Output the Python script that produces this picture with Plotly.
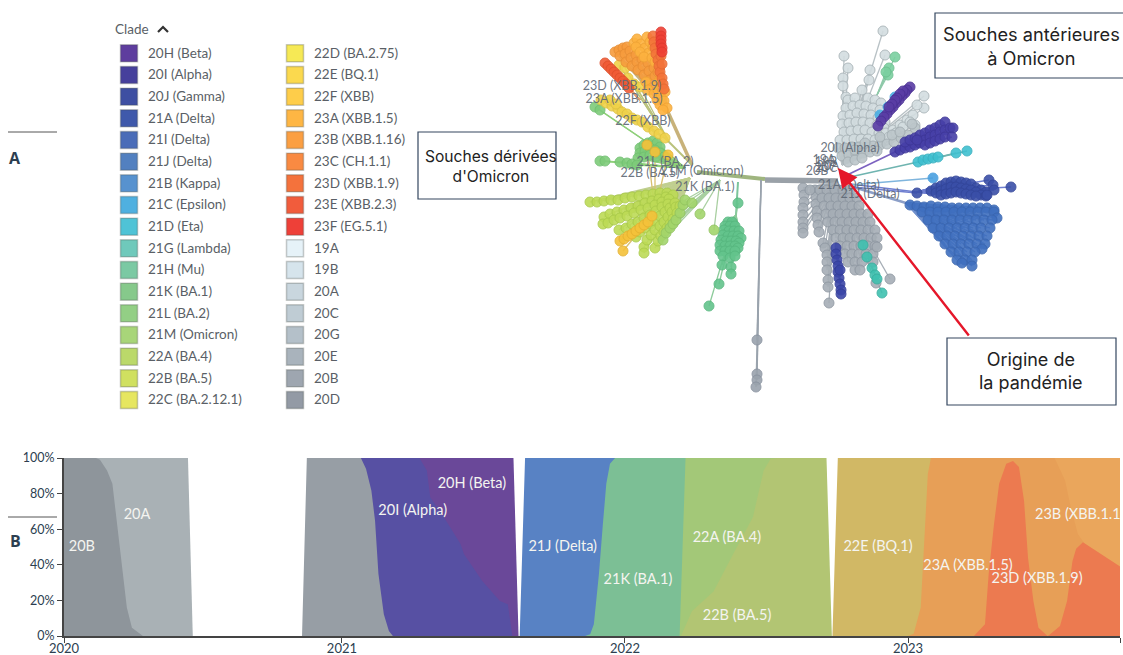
import plotly.graph_objects as go

# ---------- stream chart (B): decimal years / cumulative share ----------
a20A_x = [2020.018, 2020.456, 2020.473, 2020.018]
a20A_y = [100, 100, 0, 0]
a20B_x = [2020.018, 2020.131, 2020.145, 2020.170, 2020.189, 2020.201, 2020.214, 2020.226, 2020.240, 2020.258, 2020.297, 2020.018]
a20B_y = [100, 100, 99, 93, 85.5, 68.6, 51.7, 34.8, 16, 4.7, 0, 0]
a20H_x = [2021.06, 2021.606, 2021.624, 2021.06]
a20H_y = [100, 100, 0, 0]
a20I_x = [2021.06, 2021.274, 2021.300, 2021.312, 2021.368, 2021.419, 2021.431, 2021.495, 2021.558, 2021.586, 2021.602, 2021.06]
a20I_y = [100, 100, 93, 78, 64.8, 51.7, 46, 31, 19.7, 17.9, 0, 0]
a20X_x = [2020.876, 2021.067, 2021.085, 2021.104, 2021.117, 2021.129, 2021.148, 2021.166, 2021.180, 2020.859]
a20X_y = [100, 100, 94, 81.8, 64.8, 34.8, 12.2, 2.8, 0, 0]
a22B_x = [2022.19, 2022.712, 2022.731, 2022.19]
a22B_y = [100, 100, 0, 0]
a22A_x = [2022.19, 2022.54, 2022.515, 2022.490, 2022.452, 2022.389, 2022.313, 2022.237, 2022.198, 2022.19]
a22A_y = [100, 100, 99.6, 93, 66.7, 48, 25, 14, 0, 0]
a21K_x = [2021.85, 2022.214, 2022.193, 2021.85]
a21K_y = [100, 100, 0, 0]
a21J_x = [2021.647, 2021.965, 2021.947, 2021.934, 2021.922, 2021.908, 2021.890, 2021.877, 2021.859, 2021.628]
a21J_y = [100, 100, 96.8, 85.5, 63, 34.8, 6.6, 1, 0, 0]
a23B_x = [2023.0, 2023.749, 2023.749, 2023.0]
a23B_y = [100, 100, 0, 0]
a23A_x = [2023.0, 2023.518, 2023.555, 2023.575, 2023.600, 2023.625, 2023.749, 2023.749, 2023.0]
a23A_y = [100, 100, 87.4, 72.4, 57.3, 51.7, 39, 0, 0]
a23D_x = [2023.233, 2023.272, 2023.285, 2023.304, 2023.322, 2023.347, 2023.371, 2023.392, 2023.410, 2023.424, 2023.443, 2023.461, 2023.493,
          2023.498, 2023.537, 2023.562, 2023.581, 2023.594, 2023.618, 2023.663, 2023.735, 2023.749, 2023.749]
a23D_y = [0, 6.6, 34.8, 63, 85.5, 96.8, 98.3, 95, 76, 44, 19.7, 4.7, 0,
          0.4, 5.6, 19.7, 42, 49, 52.6, 48, 40.4, 39, 0]
a22E_x = [2022.752, 2023.081, 2023.070, 2023.057, 2023.045, 2023.020, 2023.0, 2022.733]
a22E_y = [100, 100, 91, 53.6, 16, 1.3, 0, 0]

areas = [
    (a20A_x, a20A_y, "#a9b1b5"), (a20B_x, a20B_y, "#8e959b"),
    (a20H_x, a20H_y, "#6a4899"), (a20I_x, a20I_y, "#5750a3"), (a20X_x, a20X_y, "#979ea5"),
    (a22B_x, a22B_y, "#b2c573"), (a22A_x, a22A_y, "#a3c878"), (a21K_x, a21K_y, "#7cbf95"), (a21J_x, a21J_y, "#5882c4"),
    (a23B_x, a23B_y, "#eaa65c"), (a23A_x, a23A_y, "#e79f57"), (a23D_x, a23D_y, "#ec7a50"), (a22E_x, a22E_y, "#d1b865"),
]
area_labels = ["20B", "20A", "20I (Alpha)", "20H (Beta)", "21J (Delta)", "21K (BA.1)", "22A (BA.4)", "22B (BA.5)",
               "22E (BQ.1)", "23A (XBB.1.5)", "23D (XBB.1.9)", "23B (XBB.1.1"]
area_label_x = [2020.081, 2020.276, 2021.25, 2021.459, 2021.78, 2022.046, 2022.36, 2022.396, 2022.894, 2023.212, 2023.456, 2023.60]
area_label_y = [50, 68, 70, 85, 50, 31, 55, 11, 50, 39, 32, 68]
year_tick_vals = [2020.018, 2021, 2022, 2023, 2023.749]
year_tick_text = ["2020", "2021", "2022", "2023", ""]
pct_ticks = [0, 20, 40, 60, 80, 100]
pct_text = ["0%", "20%", "40%", "60%", "80%", "100%"]

# ---------- legend (A) ----------
clades_col1 = ["20H (Beta)", "20I (Alpha)", "20J (Gamma)", "21A (Delta)", "21I (Delta)", "21J (Delta)", "21B (Kappa)", "21C (Epsilon)",
               "21D (Eta)", "21G (Lambda)", "21H (Mu)", "21K (BA.1)", "21L (BA.2)", "21M (Omicron)", "22A (BA.4)", "22B (BA.5)", "22C (BA.2.12.1)"]
colors_col1 = ["#5e3d9e", "#46409c", "#3e4fa2", "#3f59ab", "#4a6cb8", "#5280c0", "#5792cf", "#4fb0e0", "#4fc3d6", "#6fc9bb", "#7bc9a3",
               "#86c98b", "#93cf85", "#a8d579", "#bbd96a", "#d0e060", "#e6e660"]
clades_col2 = ["22D (BA.2.75)", "22E (BQ.1)", "22F (XBB)", "23A (XBB.1.5)", "23B (XBB.1.16)", "23C (CH.1.1)", "23D (XBB.1.9)", "23E (XBB.2.3)",
               "23F (EG.5.1)", "19A", "19B", "20A", "20C", "20G", "20E", "20B", "20D"]
colors_col2 = ["#f6e955", "#fbd94e", "#fecd4a", "#feb644", "#fb9f42", "#f98a42", "#f4723c", "#f15c3c", "#ee4038", "#e6f2f8", "#d6e4ec",
               "#c9d6de", "#bfccd4", "#b4c0c9", "#a9b3bc", "#9ea6b0", "#939aa5"]

# ---------- tree (A): tips, (x, y) ----------
gray_up = [(883,31),(844,56),(885,55),(848,68),(870,70),(843,78),(869,80),(843,86),(846,97),(862,90),(924,96),(924,108),(917,105),(915,125),
    (848,100),(855,98),(868,98),(875,100),(881,103),(846,108),(853,106),(860,105),(866,106),(873,108),(880,110),
    (843,116),(850,115),(857,113),(864,114),(871,115),(878,118),(885,122),(842,124),(849,123),(856,122),(863,122),(870,123),(877,125),(884,128),
    (844,132),(851,131),(858,130),(865,130),(872,132),(879,133),(886,133),(893,130),(900,125),(907,120),(913,115),
    (840,140),(847,140),(854,139),(861,139),(868,139),(875,140),(882,140),(889,137),(896,133),(903,127),(910,122)]
gray_up_low = [(838,148),(845,148),(852,147),(859,147),(866,147),(873,146),(880,145),(887,144),(894,142),(901,138),(908,135),(915,128),
    (842,156),(849,155),(856,154),(863,153),(870,152),(877,151),(848,162),(855,160),(862,158),
    (855,150),(865,143),(880,137),(892,135),(900,132),(912,124)]
mu = [(895,57),(889,68),(888,75),(886,72)]
epsilon = [(895,97),(888,107),(880,115)]
beta = [(910,87),(907,90),(905,93),(902,96),(899,100),(896,103),(893,107),(890,110),(887,114),(884,117),(881,121),(878,126),
    (903,91),(900,94),(897,98),(895,100),(892,104),(889,107)]
alpha = [(895,152),(900,150),(905,148),(910,147),(915,145),(920,143),(905,142),(910,140),(915,138),(920,135),(925,133),(930,130),(935,128),(940,125),(945,122),
    (925,140),(930,137),(935,135),(940,132),(945,130),(950,128),(953,128),(925,145),(930,143),(935,141),(940,139),(945,137),(952,137),(917,140)]
eta = [(918,162),(923,160),(928,159),(933,158),(938,157),(956,153),(967,151)]
kappa = [(933,178)]
gamma = [(917,193),(931,191),(936,188),(941,186),(946,183),(951,182),(956,181),(961,182),(966,183),(971,184),(976,188),(981,190),(986,192),
    (936,193),(941,191),(946,189),(951,187),(956,187),(961,188),(966,189),(971,190),(976,192),(981,195),(986,196),
    (941,195),(946,194),(951,193),(956,192),(961,193),(966,194),(971,195),(976,196),(989,180),(993,185),(994,190),(987,195),(1011,187)]
delta = [(910,205),(917,206),(924,207),(931,206),(938,207),(945,207),(952,208),(959,208),(966,208),(973,208),(980,208),(987,208),(994,210),
    (922,212),(930,212),(938,212),(946,212),(954,212),(962,212),(970,212),(978,212),(986,212),(994,212),(997,218),
    (928,220),(936,220),(944,220),(952,220),(960,220),(968,220),(976,220),(984,220),(992,220),
    (933,228),(941,228),(949,228),(957,228),(965,228),(973,228),(981,228),(990,228),
    (939,236),(947,236),(955,236),(963,236),(971,236),(979,236),(987,236),
    (945,244),(953,244),(961,244),(969,244),(977,244),(985,244),(982,249),
    (951,252),(959,252),(967,252),(975,252),(957,260),(965,260),(972,260),(962,263),(972,266)]
gray_low = [(803,188),(804,195),(804,202),(803,208),(803,215),(803,222),(803,228),(803,233),
    (815,190),(816,197),(816,204),(817,211),(817,218),(818,225),(819,232),(823,243),(825,248),(827,255),(827,262),(827,270),(828,280),(828,287),(829,303),
    (810,190),(820,190),(827,190),(835,190),(843,190),(850,190),
    (822,198),(829,198),(836,198),(843,198),(850,198),(857,198),
    (824,206),(831,206),(838,206),(845,206),(852,206),(859,206),
    (826,214),(833,214),(840,214),(847,214),(854,214),(861,214),(868,214),
    (828,222),(835,222),(842,222),(849,222),(856,222),(863,222),(870,222),
    (833,230),(840,230),(847,230),(854,230),(861,230),(868,230),(875,230),
    (836,238),(843,238),(850,238),(857,238),(864,238),(871,238),(877,238),
    (840,246),(847,246),(854,246),(861,246),(868,246),(875,246),
    (845,254),(852,254),(859,254),(866,254),(873,254),(848,262),(855,262),(862,262),(855,270),(860,270),
    (877,247),(890,279),(873,262),(876,283)]
gamma_low = [(836,248),(836,254),(837,260),(838,266),(838,272),(839,278),(840,284),(841,290),(841,294),(840,270)]
lambda_ = [(863,245),(867,257),(872,268),(875,275),(877,279),(882,293)]
b23B = [(615,52),(619,50),(623,48),(627,47),(620,56),(625,54),(630,51),(626,62),(631,58),(636,55),(632,66),(637,62),(642,59),(638,70),(643,66),(648,63),
    (644,75),(649,71),(654,68),(650,80),(655,76),(658,72)]
b23A = [(634,43),(637,39),(641,44),(636,47),(645,48),(640,52),(647,37),(650,42),(649,53),(644,57),(652,58),(655,62),(653,47),(657,54),
    (646,82),(652,88),(656,84),(660,80),(648,90),(654,94),(658,90),(662,88),(657,100),(661,96),(665,92),(660,105),(664,101),(667,108),(663,110)]
b23D = [(653,36),(654,42),(655,48),(656,54),(658,60),(659,66),(660,72),(662,78),(663,84),(664,89),(661,56),(662,64)]
b23F = [(661,32),(661,36),(661,40),(661,44),(662,48),(662,52)]
b23E = [(605,63),(608,66),(611,69),(614,72),(617,75),(620,78),(623,81),(626,84),(629,88)]
b22F = [(601,100),(606,103),(612,106),(618,109),(622,112),(627,114),(632,118),(637,120),(642,122),(648,127),(654,131),(659,134),(665,138),(610,100),(616,104),
    (619,65),(625,68),(628,78),(634,84),(640,87)]
b21L = [(640,148),(644,145),(648,143),(653,141),(657,143),(660,147),(640,153),(645,151),(650,148),(655,150),(660,153),(664,157),(638,158),(644,157),(650,155),(656,157),
    (600,161),(605,161),(620,162),(627,163),(632,164),(637,165),(595,107),(600,110)]
b22B = [(590,202),(597,202),(604,201),(611,200),(618,200),(625,198),(632,197),(639,196),(646,195),(653,194),(660,193),(667,193),
    (604,217),(610,214),(617,212),(624,210),(631,208),(638,206),(645,203),(652,201),(659,199),(666,197),(673,195),
    (603,224),(608,223),(614,220),(620,218),(627,216),(634,213),(641,210),(648,208),(655,205),(662,202),(669,199),
    (619,230),(626,228),(632,224),(638,222),(644,218),(650,215),(656,211),(662,207),(668,204),
    (636,237),(640,232),(645,228),(650,224),(655,221),(660,216),(665,212),(670,208),(675,203),
    (644,247),(644,253),(647,240),(651,235),(655,230),(660,226),(664,222),(668,217),(672,212),(676,207),
    (655,248),(658,241),(661,236),(664,232),(667,228),(670,224),(673,219),(677,213),(680,206)]
b22A = [(663,240),(666,233),(670,228),(673,224),(676,220),(680,213),(683,205),(685,200),(692,203),(700,214),(714,230)]
b22E = [(620,241),(624,239),(628,236),(632,234),(636,231),(640,228),(644,225),(648,222),(652,216),(623,251),(647,145),(655,152),(668,155)]
b21K = [(738,203),(728,222),(732,222),(725,226),(730,226),(735,226),(724,230),(729,231),(734,231),(739,231),(723,235),(728,236),(733,236),(738,236),(741,238),
    (721,240),(726,241),(731,241),(736,241),(739,243),(720,245),(725,246),(730,246),(735,246),(738,248),(720,251),(725,251),(730,251),(735,251),
    (723,256),(730,258),(735,256),(722,265),(731,267),(731,274),(719,284),(709,306)]
long_tail = [(757,340),(757,374),(757,380),(756,387)]

# clade, fill, edge, branch colour, hub (the node that the clade's tips hang from)
tree_groups = [
    (gray_up, "#d3dde0", "#a9b4b8", "#b8c1c5", (842, 165)), (gray_up_low, "#bcc6ca", "#a3adb2", "#b8c1c5", (842, 165)),
    (mu, "#7bd0a0", "#6cc090", "#8fc9aa", (877, 95)),
    (epsilon, "#4aaee3", "#4aaee3", "#7fbfe0", (875, 125)), (beta, "#5a3da5", "#4c3296", "#9d86cc", (875, 130)),
    (alpha, "#4740a8", "#3e3798", "#7c62c0", (895, 152)), (eta, "#3fc0d0", "#38b0c0", "#6fb4b0", (918, 162)),
    (gray_low, "#a6aeb6", "#8f98a2", "#a6aeb6", (835, 183)), (gamma_low, "#3b46a8", "#333d98", "#6f7fd0", (836, 240)),
    (lambda_, "#3fc1b0", "#38b0a0", "#9aa8aa", (860, 238)), (kappa, "#4aa0e0", "#4aa0e0", "#7fb5dd", (850, 185)),
    (delta, "#3f6fbf", "#3a66b0", "#6f8fcc", (906, 203)), (gamma, "#3a4fa8", "#33469a", "#6f7fd0", (917, 192)),
    (long_tail, "#9aa3ad", "#8a93a0", "#9aa3ad", (761, 180)),
    (b21K, "#63c48c", "#58b880", "#8ccb9a", (736, 215)), (b21L, "#7ecb7a", "#70c070", "#8fd07a", (685, 168)),
    (b22B, "#bddb56", "#aacb4a", "#c0cf90", (690, 178)), (b22A, "#a3d56c", "#93c560", "#a8cfa0", (720, 180)),
    (b22E, "#f5c23a", "#e5b230", "#d8c070", (655, 212)), (b22F, "#f0d24a", "#e0c240", "#b9c27c", (668, 140)),
    (b23B, "#f79c3d", "#e88e34", "#c8b078", (668, 112)), (b23A, "#fdb23f", "#f0a436", "#c8b078", (668, 112)),
    (b23E, "#f15a35", "#e0502c", "#e0a070", (640, 100)), (b23D, "#f4743a", "#e66a32", "#e0a070", (666, 92)),
    (b23F, "#ee4035", "#e0382e", "#e08060", (664, 70)),
]
stem_x = [[692, 668], [692, 665], [697, 765], [765, 838], [845, 895], [850, 918], [850, 906], [850, 917], [852, 917], [738, 736]]
stem_y = [[165, 112], [165, 138], [172, 179], [180, 181], [176, 152], [177, 162], [186, 203], [184, 192], [187, 193], [182, 215]]
stem_color = ["#c8b27a", "#b9c27c", "#9fb57f", "#9aa1a8", "#7c62c0", "#6fb4b0", "#8c9fc8", "#6f7fd0", "#6f7fd0", "#7cc59c"]
stem_width = [3.5, 2, 4, 5.5, 1.6, 1.6, 2.5, 1.3, 1.3, 2]

tree_labels = ["23D (XBB.1.9)", "23A (XBB.1.5)", "22F (XBB)", "21L (BA.2)", "22B (BA.5)", "21M (Omicron)", "21K (BA.1)",
               "20I (Alpha)", "19A", "19B", "20A", "20C", "20B", "21A (Delta)", "21J (Delta)"]
tree_label_x = [622, 624, 643, 665, 650, 702, 705, 850, 824, 826, 828, 826, 817, 849, 870]
tree_label_y = [87, 100, 122, 163, 174, 172, 188, 149, 161, 163, 167, 169, 172, 186, 195]

boxes = [("Souches antérieures<br>à Omicron", 935, 1130, 13, 78, 1031, 46, 18.2),
         ("Souches dérivées<br>d'Omicron", 418, 556, 132, 199, 491, 166, 15.6),
         ("Origine de<br>la pandémie", 947, 1116, 338, 405, 1031, 371, 18)]

fig = go.Figure()
INK = "#2c3e50"
SANS = "Lato, sans-serif"

for xs, ys, col in areas:
    fig.add_trace(go.Scatter(x=xs, y=ys, fill="toself", fillcolor=col, mode="lines", line=dict(width=0),
                             hoverinfo="skip", xaxis="x", yaxis="y"))
fig.add_trace(go.Scatter(x=area_label_x, y=area_label_y, text=area_labels, mode="text", textposition="middle center",
                         textfont=dict(family=SANS, size=14.5, color="#f4f4f0"), hoverinfo="skip", xaxis="x", yaxis="y"))

# branches and tips
for sx, sy, c, w in zip(stem_x, stem_y, stem_color, stem_width):
    fig.add_trace(go.Scatter(x=sx, y=sy, mode="lines", line=dict(color=c, width=w), hoverinfo="skip", xaxis="x2", yaxis="y2"))
for pts, fill, edge, branch, hub in tree_groups:
    lx, ly = [], []
    for p in pts:
        lx += [hub[0], p[0], None]
        ly += [hub[1], p[1], None]
    fig.add_trace(go.Scatter(x=lx, y=ly, mode="lines", line=dict(color=branch, width=1.3), hoverinfo="skip", xaxis="x2", yaxis="y2"))
for pts, fill, edge, branch, hub in tree_groups:
    fig.add_trace(go.Scatter(x=[p[0] for p in pts], y=[p[1] for p in pts], mode="markers",
                             marker=dict(size=10, color=fill, opacity=0.9, line=dict(color=edge, width=1)),
                             hoverinfo="skip", xaxis="x2", yaxis="y2"))
fig.add_trace(go.Scatter(x=tree_label_x, y=tree_label_y, text=tree_labels, mode="text", textposition="middle center",
                         textfont=dict(family=SANS, size=12.5, color="rgba(95,105,118,0.92)"), hoverinfo="skip", xaxis="x2", yaxis="y2"))

# legend columns
for names, cols, sx, tx in [(clades_col1, colors_col1, 129, 148), (clades_col2, colors_col2, 295, 314)]:
    rows = [53.3 + 21.67 * i for i in range(len(names))]
    fig.add_trace(go.Scatter(x=[sx] * len(names), y=rows, mode="markers", hoverinfo="skip", xaxis="x2", yaxis="y2",
                             marker=dict(symbol="square", size=17, color=cols, line=dict(color="rgba(60,70,60,0.28)", width=1.5))))
    fig.add_trace(go.Scatter(x=[tx] * len(names), y=[r + 1 for r in rows], text=names, mode="text", textposition="middle right", hoverinfo="skip",
                             textfont=dict(family=SANS, size=13.5, color="#5a5f66"), xaxis="x2", yaxis="y2"))
fig.add_trace(go.Scatter(x=[158, 163, 168], y=[32, 27, 32], mode="lines", line=dict(color="#333", width=2.2),
                         hoverinfo="skip", xaxis="x2", yaxis="y2"))

shapes = [dict(type="line", xref="x2", yref="y2", x0=8, x1=57, y0=132, y1=132, line=dict(color="#555", width=1)),
          dict(type="line", xref="x2", yref="y2", x0=8, x1=57, y0=517, y1=517, line=dict(color="#555", width=1))]
annotations = [
    dict(text="<b>A</b>", x=15, y=158, font=dict(family="Open Sans", size=16, color=INK)),
    dict(text="<b>B</b>", x=15, y=541, font=dict(family="Open Sans", size=16, color=INK)),
    dict(text="Clade", x=132, y=29, font=dict(family=SANS, size=13.5, color="#5a5f66")),
]
for txt, x0, x1, y0, y1, cx, cy, fs in boxes:
    shapes.append(dict(type="rect", xref="x2", yref="y2", x0=x0, x1=x1, y0=y0, y1=y1,
                       line=dict(color="#34465f", width=1.2), fillcolor="white"))
    annotations.append(dict(text=txt, x=cx, y=cy, font=dict(family="Inter", size=fs, color="#222")))
for a in annotations:
    a.update(xref="x2", yref="y2", showarrow=False, xanchor="center", yanchor="middle")
annotations.append(dict(x=838, y=168, ax=970, ay=337, xref="x2", yref="y2", axref="x2", ayref="y2", text="",
                        showarrow=True, arrowhead=2, arrowsize=1.6, arrowwidth=2.4, arrowcolor="#e5172a"))

fig.update_layout(
    width=1123, height=655, margin=dict(l=0, r=0, t=0, b=0), paper_bgcolor="white", plot_bgcolor="rgba(0,0,0,0)",
    showlegend=False, shapes=shapes, annotations=annotations,
    xaxis=dict(domain=[64 / 1123, 1120 / 1123], range=[2020.018, 2023.749], tickmode="array", tickvals=year_tick_vals, ticktext=year_tick_text,
               showgrid=False, zeroline=False, showline=True, linecolor="#444", linewidth=2, ticks="outside", ticklen=5, tickcolor="#444",
               tickfont=dict(family=SANS, size=13, color=INK), anchor="y", automargin=False, ticklabelstandoff=-6),
    yaxis=dict(domain=[1 - 636 / 655, 1 - 458 / 655], range=[0, 100], tickmode="array", tickvals=pct_ticks, ticktext=pct_text,
               showgrid=False, zeroline=False, showline=True, linecolor="#444", linewidth=2, ticks="outside", ticklen=5, tickcolor="#444",
               tickfont=dict(family=SANS, size=12.5, color=INK), anchor="x", automargin=False),
    xaxis2=dict(domain=[0, 1], range=[0, 1123], visible=False, anchor="y2", automargin=False),
    yaxis2=dict(domain=[0, 1], range=[655, 0], visible=False, anchor="x2", automargin=False),
)
fig.write_html("out.html", config={"displayModeBar": False},
               post_script="document.body.style.margin='0';document.body.style.overflow='hidden';")
